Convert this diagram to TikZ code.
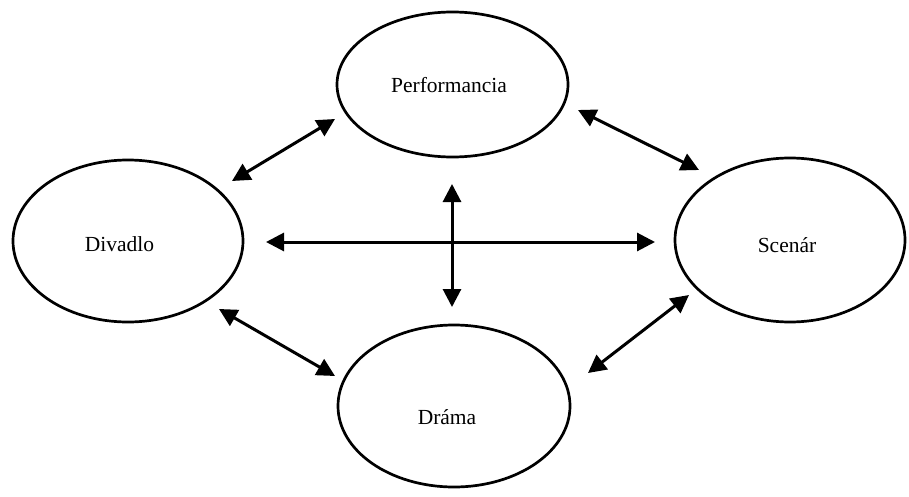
\documentclass[tikz,border=0pt]{standalone}
\usepackage{fontspec}
\setmainfont{Liberation Serif}
\usetikzlibrary{shapes.geometric,arrows.meta}
\begin{document}
\begin{tikzpicture}[x=1pt,y=-1pt,
  oval/.style={ellipse,draw,line width=2.7pt,inner sep=0pt},
  txt/.style={anchor=base,inner sep=0pt,font=\fontsize{21.5}{25}\selectfont},
  link/.style={line width=3pt,{Triangle[length=18pt,width=18pt]}-{Triangle[length=18pt,width=18pt]}}]
\useasboundingbox (0,0) rectangle (909,497);
\node[oval,minimum width=231pt,minimum height=145pt] (P) at (452.5,84.5) {};
\node[oval,minimum width=230pt,minimum height=162pt] (D) at (128,241) {};
\node[oval,minimum width=230pt,minimum height=164pt] (S) at (790,240) {};
\node[oval,minimum width=232pt,minimum height=162pt] (R) at (454,406) {};
\node[txt] (Pt) at (449,93) {Performancia};
\node[txt] (Dt) at (119.5,251) {Divadlo};
\node[txt] (St) at (787,252) {Scenár};
\node[txt] (Rt) at (447,424) {Dráma};
\coordinate (dp1) at (232,181);
\coordinate (dp2) at (335,119);
\coordinate (ps1) at (578,110);
\coordinate (ps2) at (699,170);
\coordinate (ds1) at (266,242);
\coordinate (ds2) at (655,242);
\coordinate (pr1) at (452,184);
\coordinate (pr2) at (452,307);
\coordinate (dr1) at (219,309);
\coordinate (dr2) at (335,376);
\coordinate (rs1) at (588,373);
\coordinate (rs2) at (689,295);
\draw[link] (dp1) -- (dp2);
\draw[link] (ps1) -- (ps2);
\draw[link] (ds1) -- (ds2);
\draw[link] (pr1) -- (pr2);
\draw[link] (dr1) -- (dr2);
\draw[link] (rs1) -- (rs2);
\end{tikzpicture}
\end{document}
